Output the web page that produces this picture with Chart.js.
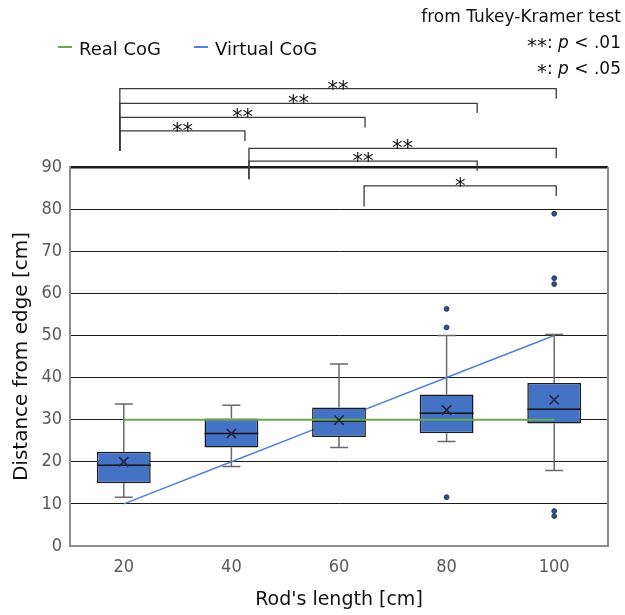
<!DOCTYPE html>
<html lang="en">
<head>
<meta charset="UTF-8">
<title>Distance from edge vs rod length</title>
<script src="https://cdn.jsdelivr.net/npm/chart.js"></script>
<style>
  html, body { margin: 0; padding: 0; background: #fff; }
  #wrap { width: 625px; height: 615px; }
</style>
</head>
<body>
<div id="wrap"><canvas id="grafico" width="625" height="615"></canvas></div>
<script>
// categories and box plot values
const categories = ['20', '40', '60', '80', '100'];
const whiskerLow  = [11.6, 18.9, 23.4, 24.8, 17.9];
const q1          = [14.9, 23.4, 25.9, 26.8, 29.1];
const median      = [19.2, 26.7, 29.7, 31.5, 32.5];
const q3          = [22.4, 30.3, 32.9, 36.0, 38.7];
const whiskerHigh = [33.7, 33.4, 43.2, 50.0, 50.2];
const means       = [20.0, 26.7, 29.9, 32.3, 34.7];

// outliers
const outlierCat = ['80', '80', '80', '100', '100', '100', '100', '100'];
const outlierVal = [56.3, 51.9, 11.6, 78.9, 63.6, 62.2, 8.3, 7.1];

// reference lines
const realCoG    = [30, 30, 30, 30, 30];
const virtualCoG = [10, 20, 30, 40, 50];

// y ticks
const yMin = 0, yMax = 90, yStep = 10;

// significance brackets (from Tukey-Kramer test)
const bracketFrom  = [-0.037, -0.037, -0.037, -0.037, 1.163, 1.163, 2.233];
const bracketTo    = [4.019, 3.284, 2.242, 1.126, 4.019, 3.284, 4.019];
const bracketTop   = [108.6, 105.1, 101.8, 98.6, 94.4, 91.4, 85.5];
const bracketLeftEnd  = [93.8, 93.8, 93.8, 93.8, 87.1, 87.1, 80.6];
const bracketRightEnd = [106.2, 102.8, 99.4, 96.2, 92.1, 89.1, 83.1];
const bracketLabel = ['**', '**', '**', '**', '**', '**', '*'];

const FONT = "'DejaVu Sans', sans-serif";
const TICKFONT = "'Liberation Sans Narrow', 'DejaVu Sans Condensed', sans-serif";

// whiskers, caps and medians on top of the boxes
const boxExtras = {
  id: 'boxExtras',
  afterDatasetDraw(chart, args) {
    if (args.index !== 0) return;
    const ctx = chart.ctx;
    const y = chart.scales.y;
    ctx.save();
    args.meta.data.forEach((bar, i) => {
      const p = bar.getProps(['x', 'width'], true);
      const cx = p.x, half = p.width / 2;
      ctx.strokeStyle = '#6a6a6a';
      ctx.lineWidth = 1.5;
      ctx.beginPath();
      ctx.moveTo(cx, y.getPixelForValue(q3[i]));
      ctx.lineTo(cx, y.getPixelForValue(whiskerHigh[i]));
      ctx.moveTo(cx, y.getPixelForValue(q1[i]));
      ctx.lineTo(cx, y.getPixelForValue(whiskerLow[i]));
      ctx.moveTo(cx - 9, y.getPixelForValue(whiskerHigh[i]));
      ctx.lineTo(cx + 9, y.getPixelForValue(whiskerHigh[i]));
      ctx.moveTo(cx - 9, y.getPixelForValue(whiskerLow[i]));
      ctx.lineTo(cx + 9, y.getPixelForValue(whiskerLow[i]));
      ctx.stroke();
      ctx.strokeStyle = '#111';
      ctx.beginPath();
      const my = y.getPixelForValue(median[i]);
      ctx.moveTo(cx - half, my);
      ctx.lineTo(cx + half, my);
      ctx.stroke();
    });
    ctx.restore();
  },
  afterDraw(chart) {
    const ctx = chart.ctx;
    const {x, y} = chart.scales;
    const area = chart.chartArea;
    ctx.save();

    // right frame line
    ctx.strokeStyle = '#8c8c8c';
    ctx.lineWidth = 2;
    ctx.beginPath();
    ctx.moveTo(area.right, area.top);
    ctx.lineTo(area.right, area.bottom + 1);
    ctx.stroke();

    // brackets
    ctx.strokeStyle = '#3a3a3a';
    ctx.lineWidth = 1.3;
    ctx.fillStyle = '#111';
    ctx.font = '21px ' + FONT;
    ctx.textAlign = 'center';
    ctx.textBaseline = 'alphabetic';
    bracketLabel.forEach((lab, i) => {
      const x1 = x.getPixelForValue(bracketFrom[i]);
      const x2 = x.getPixelForValue(bracketTo[i]);
      const yt = y.getPixelForValue(bracketTop[i]);
      ctx.beginPath();
      ctx.moveTo(x1, y.getPixelForValue(bracketLeftEnd[i]));
      ctx.lineTo(x1, yt);
      ctx.lineTo(x2, yt);
      ctx.lineTo(x2, y.getPixelForValue(bracketRightEnd[i]));
      ctx.stroke();
      ctx.fillText(lab, (x1 + x2) / 2, yt + 7);
    });

    // legend (line datasets only)
    ctx.textAlign = 'left';
    ctx.textBaseline = 'middle';
    ctx.font = '18px ' + FONT;
    let lx = 58;
    chart.data.datasets.filter(d => d.inLegend).forEach(d => {
      ctx.strokeStyle = d.borderColor;
      ctx.lineWidth = 2;
      ctx.beginPath();
      ctx.moveTo(lx, 47);
      ctx.lineTo(lx + 14, 47);
      ctx.stroke();
      ctx.fillStyle = '#111';
      ctx.fillText(d.label, lx + 21, 50);
      lx += 21 + ctx.measureText(d.label).width + 33;
    });

    // test note, right aligned
    const rightX = 621;
    ctx.fillStyle = '#111';
    ctx.textAlign = 'right';
    ctx.font = '17px ' + FONT;
    ctx.fillText('from Tukey-Kramer test', rightX, 18);
    const note = (stars, tail, cy) => {
      ctx.textAlign = 'left';
      ctx.font = '20px ' + FONT;
      const ws = ctx.measureText(stars).width;
      ctx.font = '17px ' + FONT;
      const wa = ctx.measureText(': ').width;
      const wc = ctx.measureText(tail).width;
      ctx.font = 'italic 17px ' + FONT;
      const wb = ctx.measureText('p').width;
      const sx = rightX - ws - wa - wb - wc;
      ctx.font = '20px ' + FONT;
      ctx.fillText(stars, sx, cy + 3);
      ctx.font = '17px ' + FONT;
      ctx.fillText(': ', sx + ws, cy);
      ctx.font = 'italic 17px ' + FONT;
      ctx.fillText('p', sx + ws + wa, cy);
      ctx.font = '17px ' + FONT;
      ctx.fillText(tail, sx + ws + wa + wb, cy);
    };
    note('**', ' < .01', 44);
    note('*', ' < .05', 70);
    ctx.restore();
  }
};

const ctx = document.getElementById('grafico').getContext('2d');
const chart = new Chart(ctx, {
  type: 'bar',
  data: {
    labels: categories,
    datasets: [
      {
        type: 'bar',
        label: 'Box',
        data: categories.map((c, i) => [q1[i], q3[i]]),
        backgroundColor: '#4472C4',
        borderColor: '#1a1a1a',
        borderWidth: 1.5,
        borderSkipped: false,
        barPercentage: 0.5,
        categoryPercentage: 1.0,
        order: 3
      },
      {
        type: 'line',
        label: 'Real CoG',
        inLegend: true,
        data: realCoG,
        borderColor: '#6AA84F',
        borderWidth: 2,
        pointRadius: 0,
        fill: false,
        order: 2
      },
      {
        type: 'line',
        label: 'Virtual CoG',
        inLegend: true,
        data: virtualCoG,
        borderColor: '#4F81DB',
        borderWidth: 1.5,
        pointRadius: 0,
        fill: false,
        order: 4
      },
      {
        type: 'line',
        label: 'Mean',
        data: means,
        showLine: false,
        pointStyle: 'crossRot',
        pointRadius: 6.5,
        pointBorderWidth: 1.6,
        borderColor: '#1c2740',
        order: 1
      },
      {
        type: 'line',
        label: 'Outliers',
        data: outlierCat.map((c, i) => ({x: c, y: outlierVal[i]})),
        showLine: false,
        pointStyle: 'circle',
        pointRadius: 2.4,
        backgroundColor: '#2F4F8F',
        borderColor: '#24375e',
        borderWidth: 1,
        order: 0
      }
    ]
  },
  options: {
    responsive: false,
    animation: false,
    devicePixelRatio: 1,
    layout: { padding: { top: 167, right: 17, bottom: 0, left: 0 } },
    plugins: {
      legend: { display: false },
      tooltip: { enabled: false }
    },
    scales: {
      x: {
        grid: { display: false, drawTicks: false },
        border: { display: true, color: '#8c8c8c', width: 2 },
        ticks: { color: '#595959', font: { family: TICKFONT, size: 18 }, padding: 11 },
        title: {
          display: true,
          text: "Rod's length [cm]",
          color: '#111',
          font: { family: FONT, size: 19 },
          padding: { top: 0, bottom: 4 }
        },
        afterFit(scale) { scale.height = 69; }
      },
      y: {
        min: yMin,
        max: yMax,
        grid: {
          color: '#1a1a1a',
          lineWidth: c => (c.tick && c.tick.value === yMax ? 2.5 : 1),
          drawTicks: false
        },
        border: { display: true, color: '#8c8c8c', width: 2 },
        ticks: { stepSize: yStep, color: '#595959', font: { family: TICKFONT, size: 18 }, padding: 8 },
        title: {
          display: true,
          text: 'Distance from edge [cm]',
          color: '#111',
          font: { family: FONT, size: 20 },
          padding: { top: 10, bottom: 0 }
        },
        afterFit(scale) { scale.width = 70; }
      }
    }
  },
  plugins: [boxExtras]
});
</script>
</body>
</html>
